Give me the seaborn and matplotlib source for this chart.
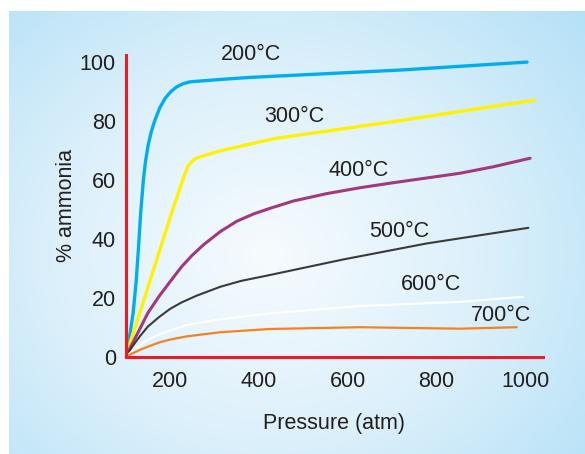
import numpy as np
import pandas as pd
import seaborn as sns
import matplotlib.pyplot as plt
from matplotlib.colors import LinearSegmentedColormap

# values (pressure in atm, % ammonia)
p_200 = [100, 110, 117, 124, 129, 134, 140, 145, 151, 158, 166, 177, 189, 202, 215, 230, 245, 313, 380, 719, 1004]
a_200 = [0, 8, 15, 26, 37, 49, 60, 66.5, 72, 76.5, 80.3, 84.5, 87.7, 90, 91.6, 92.7, 93.3, 94.1, 94.8, 97.3, 100]

p_300 = [100, 132, 177.5, 207.5, 234, 241, 249, 256, 268, 313, 380, 437, 702, 1020]
a_300 = [0, 15, 36.5, 50.6, 62.3, 64.8, 66.2, 67.2, 67.9, 69.9, 72.2, 74.1, 79.8, 87.1]

p_400 = [100, 115, 132, 150, 175, 200, 226, 250, 275, 313, 350, 388, 425, 478, 553, 628, 703, 853, 928, 1011]
a_400 = [0, 4.5, 9.5, 14.9, 20.5, 25.5, 30.6, 34.5, 38, 42.5, 46, 48.5, 50.4, 52.9, 55.4, 57.4, 59.1, 62.3, 64.5, 67.4]

p_500 = [100, 115, 132, 150, 175, 200, 226, 260, 313, 360, 425, 591, 778, 1007]
a_500 = [0, 3.5, 7, 10.3, 13.5, 16.3, 18.5, 20.8, 23.8, 25.8, 27.8, 33.1, 38.5, 43.8]

p_600 = [100, 115, 132, 150, 175, 200, 238, 313, 425, 628, 854, 996]
a_600 = [0, 2, 4, 5.8, 7.6, 9, 10.8, 12.8, 14.8, 17.3, 18.7, 20.4]

p_700 = [100, 115, 132, 150, 175, 200, 238, 313, 425, 628, 854, 981]
a_700 = [0, 1.2, 2.4, 3.5, 4.9, 5.9, 7.0, 8.4, 9.5, 10.1, 9.6, 10.1]

labels = ['200°C', '300°C', '400°C', '500°C', '600°C', '700°C']
label_x = [383, 479, 624, 716, 788, 946]
label_y = [102.4, 81.4, 63.4, 42.7, 24.7, 14.2]

colors = ['#00aeef', '#fff200', '#a2387f', '#3a3a3a', '#ffffff', '#f58220']
widths = [2.4, 2.4, 2.2, 1.5, 1.5, 1.6]

frames = []
for lab, p, a in zip(labels, [p_200, p_300, p_400, p_500, p_600, p_700],
                     [a_200, a_300, a_400, a_500, a_600, a_700]):
    frames.append(pd.DataFrame({'Pressure': p, 'Ammonia': a, 'Temp': lab}))
df = pd.concat(frames, ignore_index=True)

sns.set_style("white")
plt.rcParams['font.family'] = ['Liberation Sans', 'DejaVu Sans']

fig = plt.figure(figsize=(5.85, 4.54), dpi=100)
fig.patch.set_facecolor('white')

# gradient panel behind the chart
bg = fig.add_axes([9 / 585, 0, 1 - 9 / 585, (454 - 11) / 454], zorder=-1)
yy, xx = np.mgrid[0:1:200j, 0:1:260j]
dist = np.sqrt(((xx - 0.45) / 0.75) ** 2 + ((yy - 0.55) / 0.85) ** 2)
dist = np.clip(dist, 0, 1)
cmap = LinearSegmentedColormap.from_list('panel', ['#f6fbfe', '#dcf0fb', '#b3e0f7'])
bg.imshow(dist, cmap=cmap, aspect='auto', extent=[0, 1, 0, 1], vmin=0, vmax=1)
bg.axis('off')

ax = fig.add_axes([125.6 / 585, (454 - 357) / 454, (543 - 125.6) / 585, (357 - 55) / 454])
ax.set_facecolor('none')

for lab, col, lw in zip(labels, colors, widths):
    sns.lineplot(data=df[df['Temp'] == lab], x='Pressure', y='Ammonia',
                 color=col, linewidth=lw, estimator=None, sort=False, ax=ax)

for lab, x, y in zip(labels, label_x, label_y):
    ax.text(x, y, lab, fontsize=15.5, color='#231f20', ha='center', va='center')

ax.set_xlim(100, 1040)
ax.set_ylim(0, 102.4)
ax.set_xticks([200, 400, 600, 800, 1000])
ax.set_yticks([0, 20, 40, 60, 80, 100])
ax.tick_params(axis='both', length=0, labelsize=15.5, colors='#231f20')
ax.tick_params(axis='y', pad=7)
ax.tick_params(axis='x', pad=10)

for side in ['top', 'right']:
    ax.spines[side].set_visible(False)
for side in ['left', 'bottom']:
    ax.spines[side].set_color('#ed1c24')
    ax.spines[side].set_linewidth(2.2)

ax.set_xlabel('Pressure (atm)', fontsize=15.5, color='#231f20', labelpad=15)
ax.set_ylabel('% ammonia', fontsize=15.5, color='#231f20', labelpad=2)

fig.savefig('out.png', dpi=100)
